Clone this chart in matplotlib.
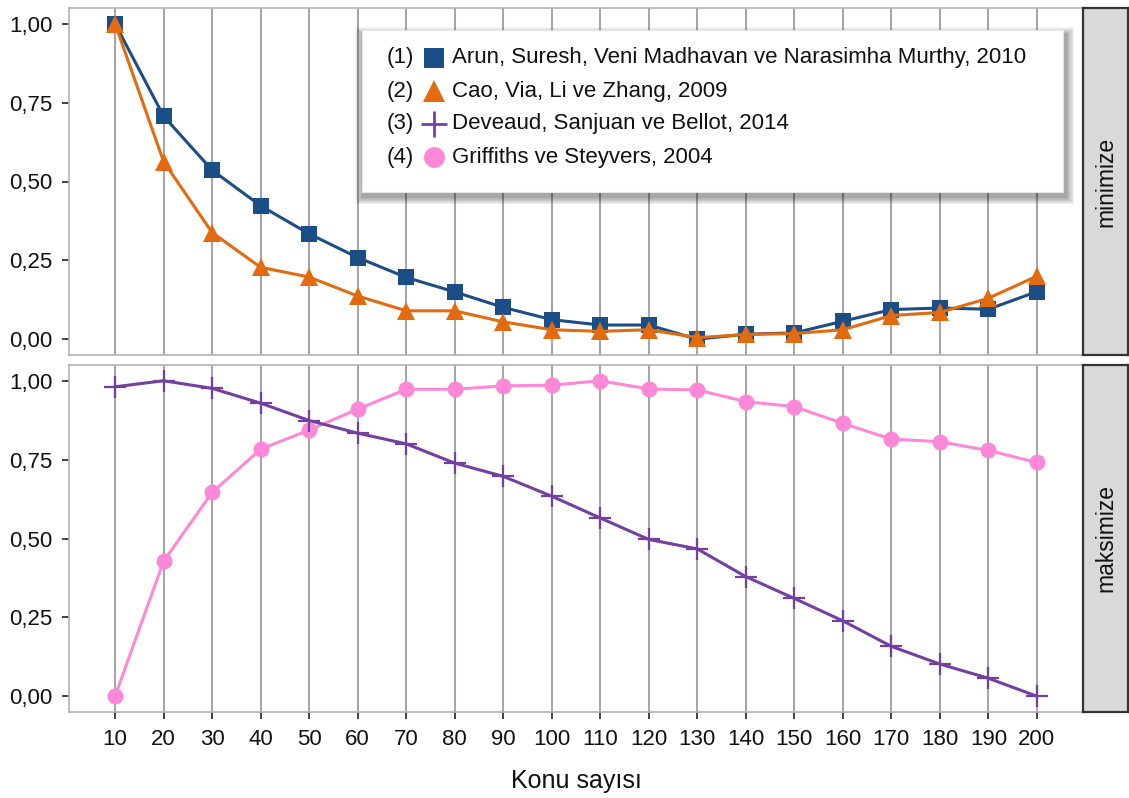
import numpy as np
import matplotlib.pyplot as plt
from matplotlib.lines import Line2D
from matplotlib.patches import Rectangle

plt.rcParams['font.family'] = ['Liberation Sans', 'DejaVu Sans']

# Konu sayisi (number of topics)
topics = [10, 20, 30, 40, 50, 60, 70, 80, 90, 100,
          110, 120, 130, 140, 150, 160, 170, 180, 190, 200]

# minimize panel
arun = [1.00, 0.707, 0.536, 0.423, 0.334, 0.259, 0.196, 0.150, 0.101, 0.062,
        0.045, 0.045, 0.000, 0.016, 0.020, 0.057, 0.094, 0.099, 0.095, 0.151]
cao = [1.00, 0.563, 0.338, 0.228, 0.197, 0.137, 0.090, 0.090, 0.055, 0.030,
       0.025, 0.030, 0.005, 0.015, 0.018, 0.030, 0.075, 0.085, 0.130, 0.200]

# maksimize panel
deveaud = [0.981, 1.000, 0.976, 0.929, 0.874, 0.834, 0.800, 0.739, 0.697, 0.634,
           0.565, 0.497, 0.467, 0.379, 0.310, 0.239, 0.158, 0.102, 0.057, 0.000]
griffiths = [0.000, 0.428, 0.646, 0.783, 0.844, 0.910, 0.973, 0.973, 0.984, 0.986,
             1.000, 0.974, 0.971, 0.934, 0.918, 0.865, 0.815, 0.807, 0.779, 0.741]

yticks = [0.0, 0.25, 0.5, 0.75, 1.0]
panel_names = ['minimize', 'maksimize']

legend_labels = ['Arun, Suresh, Veni Madhavan ve Narasimha Murthy, 2010',
                 'Cao, Via, Li ve Zhang, 2009',
                 'Deveaud, Sanjuan ve Bellot, 2014',
                 'Griffiths ve Steyvers, 2004']

c_arun = '#1B4D86'
c_cao = '#E26B0F'
c_dev = '#7440A0'
c_grif = '#FC88D7'

W, H = 1129, 798
fig = plt.figure(figsize=(W / 100, H / 100), dpi=100)


def px_box(x0, y0, x1, y1):
    # pixel box (top-left origin) -> figure fraction rect
    return [x0 / W, 1 - y1 / H, (x1 - x0) / W, (y1 - y0) / H]


ax_top = fig.add_axes(px_box(69, 8, 1083, 355))
ax_bot = fig.add_axes(px_box(69, 365, 1083, 712))

line_kw = dict(lw=2.2, clip_on=False, zorder=3)

ax_top.plot(topics, arun, color=c_arun, marker='s', ms=11, mew=0, **line_kw)
ax_top.plot(topics, cao, color=c_cao, marker='^', ms=13, mew=0, **line_kw)

ax_bot.plot(topics, griffiths, color=c_grif, marker='o', ms=11.5, mew=0, **line_kw)
ax_bot.plot(topics, deveaud, color=c_dev, marker='+', ms=16, mew=1.6, **line_kw)

for ax in (ax_top, ax_bot):
    ax.set_xlim(0.5, 209.5)
    ax.set_ylim(-0.05, 1.05)
    ax.set_xticks(topics)
    ax.set_yticks(yticks)
    ax.set_yticklabels([f'{v:.2f}'.replace('.', ',') for v in yticks])
    ax.grid(axis='x', color='#a6a6a6', lw=1.5)
    ax.grid(axis='y', visible=False)
    ax.set_axisbelow(True)
    for s in ax.spines.values():
        s.set_color('#b3b3b3')
        s.set_linewidth(1.2)
    ax.tick_params(axis='both', length=5, width=1.3, color='#333333',
                   labelsize=16, labelcolor='#111111', pad=7)

ax_top.tick_params(axis='x', bottom=False, labelbottom=False)
ax_bot.set_xlabel('Konu sayısı', fontsize=18, labelpad=14, color='#111111')

# facet strips on the right
for name, (y0, y1) in zip(panel_names, [(8, 355), (365, 712)]):
    sax = fig.add_axes(px_box(1083, y0, 1128, y1))
    sax.set_facecolor('#d9d9d9')
    sax.set_xticks([])
    sax.set_yticks([])
    for s in sax.spines.values():
        s.set_color('#333333')
        s.set_linewidth(1.6)
    sax.text(0.5, 0.5, name, rotation=90, ha='center', va='center',
             fontsize=16.5, color='#111111', transform=sax.transAxes)

# legend box with a soft shadow
tr = ax_top.transAxes
lx0, lx1 = (362 - 69) / 1014, (1063 - 69) / 1014
ly0, ly1 = 1 - (192 - 8) / 347, 1 - (30 - 8) / 347
for k in range(10, 0, -1):
    dx = k * 0.0008
    dy = k * 0.0022
    ax_top.add_patch(Rectangle((lx0 - dx + 0.001, ly0 - 0.014 - dy),
                               lx1 - lx0 + 2 * dx + 0.002, ly1 - ly0 + 2 * dy,
                               transform=tr, facecolor='black', edgecolor='none',
                               alpha=0.04, zorder=5, clip_on=False))
ax_top.add_patch(Rectangle((lx0, ly0), lx1 - lx0, ly1 - ly0, transform=tr,
                           facecolor='white', edgecolor='#e6e6e6', lw=0.8,
                           zorder=6, clip_on=False))

handles = [dict(color=c_arun, marker='s', ms=14, mew=0),
           dict(color=c_cao, marker='^', ms=16, mew=0),
           dict(color=c_dev, marker='+', ms=19, mew=2.0),
           dict(color=c_grif, marker='o', ms=15, mew=0)]
row_y = [58, 91, 124, 157]
for i, (lab, hk, ry) in enumerate(zip(legend_labels, handles, row_y)):
    yy = 1 - (ry - 8) / 347
    ax_top.text((387 - 69) / 1014, yy, f'({i + 1})', transform=tr,
                ha='left', va='center', fontsize=16, color='#111111', zorder=7)
    ax_top.add_line(Line2D([(434 - 69) / 1014], [yy], transform=tr,
                           ls='none', zorder=7, clip_on=False, **hk))
    ax_top.text((452 - 69) / 1014, yy, lab, transform=tr,
                ha='left', va='center', fontsize=16, color='#111111', zorder=7)

fig.savefig('out.png', dpi=100)
